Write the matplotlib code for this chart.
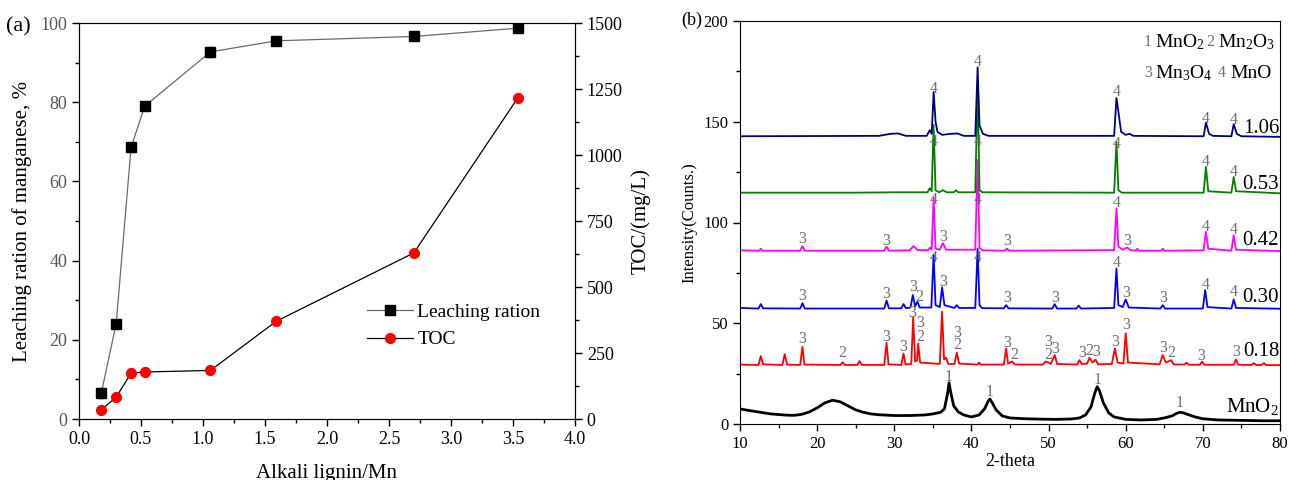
import matplotlib.pyplot as plt
from matplotlib.ticker import MultipleLocator

plt.rcParams['font.family'] = ['Liberation Serif', 'DejaVu Serif']
plt.rcParams['mathtext.fontset'] = 'custom'
plt.rcParams['mathtext.rm'] = 'Liberation Serif'
plt.rcParams['mathtext.it'] = 'Liberation Serif:italic'

# ---- panel (a) data ----
ratio = [0.18, 0.30, 0.42, 0.53, 1.06, 1.59, 2.70, 3.54]
leaching = [6.6, 24.1, 68.6, 79.0, 92.7, 95.5, 96.6, 98.7]
leaching_err = [1.2, 1.0, 1.2, 1.0, 1.2, 1.0, 1.0, 1.0]
toc = [35, 83, 174, 178, 184, 370, 629, 1217]
toc_err = [15, 15, 15, 15, 15, 15, 12, 15]

# ---- panel (b) XRD traces, (2-theta, counts) ----
mno2_pts = [(10, 7.5), (11, 6.8), (12, 6.2), (13, 5.6), (14, 5.0), (15, 4.7), (16, 4.4), (17, 4.3),
            (18, 4.8), (19, 6.0), (20, 8.0), (21, 10.5), (22, 11.8), (23, 11.0), (24, 9.0), (25, 7.0),
            (26, 5.8), (27, 5.0), (28, 4.6), (30, 4.2), (32, 4.2), (34, 4.5), (35, 5.0), (36, 5.8),
            (36.5, 7.5), (36.9, 15), (37.1, 20.5), (37.3, 16), (37.7, 9), (38.3, 6), (39, 4.5), (40, 3.5),
            (41, 4.5), (41.7, 7.5), (42.2, 11.5), (42.4, 12.4), (42.7, 10.5), (43.2, 7), (44, 4.0), (45, 3.0),
            (47, 2.6), (49, 2.4), (51, 2.3), (53, 2.5), (54, 3.0), (54.8, 4.5), (55.5, 8.5), (56.0, 15.5),
            (56.3, 18.5), (56.6, 16.5), (57.1, 10.5), (57.8, 5.5), (58.5, 3.5), (60, 2.3), (62, 2.0), (64, 2.3),
            (65, 3.0), (66, 4.0), (66.6, 5.3), (67, 5.8), (67.5, 5.5), (68, 4.8), (69, 3.5), (70, 2.6),
            (72, 2.0), (75, 1.8), (78, 1.6), (80, 1.6)]
s018_pts = [(10, 29.5), (12.4, 29.3), (12.7, 33.7), (13.0, 29.6), (15.5, 29.3), (15.8, 34.7), (16.1, 29.5),
            (17.8, 29.3), (18.1, 38.3), (18.35, 29.5), (23.0, 29.3), (23.3, 30.6), (23.6, 29.3), (25.2, 29.3),
            (25.5, 31.2), (25.8, 29.3), (28.7, 29.3), (29.0, 40.3), (29.25, 29.6), (30.9, 29.3), (31.2, 35),
            (31.45, 29.5), (32.2, 29.8), (32.45, 53), (32.7, 31), (32.95, 31.5), (33.1, 40), (33.35, 30.5),
            (35.9, 29.8), (36.2, 55.7), (36.45, 32), (36.7, 33), (37.0, 29.8), (37.8, 29.8), (38.1, 35.4),
            (38.4, 30), (40.8, 29.5), (41.0, 30.5), (41.2, 29.5), (44.2, 29.5), (44.5, 37.5), (44.75, 30),
            (45.3, 31), (45.6, 29.5), (49.3, 29.5), (49.6, 31), (50.0, 30.5), (50.3, 29.8), (50.8, 34.2),
            (51.1, 29.8), (53.7, 29.5), (54.0, 31.7), (54.3, 29.8), (55.0, 30), (55.3, 32.9), (55.7, 30.5),
            (56.1, 32), (56.4, 29.6), (58.2, 29.8), (58.6, 37.5), (58.95, 30.5), (59.7, 30), (60.0, 45),
            (60.3, 30.5), (64.4, 29.6), (64.8, 34.2), (65.2, 30.5), (65.9, 31.7), (66.2, 29.6), (67.6, 29.5),
            (67.9, 30.4), (68.2, 29.4), (69.6, 29.4), (69.9, 31), (70.2, 29.4), (74.0, 29.4), (74.3, 32),
            (74.6, 29.4), (76.3, 29.3), (76.6, 30.2), (76.9, 29.3), (77.6, 29.3), (77.9, 30.2), (78.2, 29.2),
            (80, 29.2)]
s030_pts = [(10, 57.6), (12.4, 57.3), (12.7, 59.5), (13.0, 57.4), (17.8, 57.3), (18.1, 60), (18.4, 57.3),
            (28.7, 57.3), (29.0, 61.3), (29.3, 57.4), (30.9, 57.4), (31.2, 59.5), (31.5, 57.5), (32.1, 57.8),
            (32.4, 64), (32.7, 58.5), (33.0, 60.7), (33.3, 57.8), (34.8, 57.8), (35.1, 84), (35.35, 59),
            (35.9, 58), (36.2, 67.8), (36.5, 59), (37.8, 57.6), (38.1, 59), (38.4, 57.6), (40.5, 57.6),
            (40.8, 87), (41.05, 59), (41.4, 57.5), (44.2, 57.4), (44.5, 59), (44.8, 57.4), (50.5, 57.3),
            (50.8, 59.5), (51.1, 57.3), (53.6, 57.3), (53.9, 58.8), (54.2, 57.3), (58.5, 57.6), (58.8, 77.2),
            (59.05, 59), (59.6, 58), (60.0, 61.8), (60.4, 57.8), (64.5, 57.3), (64.8, 59), (65.1, 57.3),
            (70.0, 57.3), (70.3, 66.4), (70.6, 58), (73.7, 57.3), (74.0, 61.8), (74.3, 57.6), (80, 57.2)]
s042_pts = [(10, 86.2), (12.5, 86), (12.7, 87), (12.9, 86), (17.8, 86), (18.1, 88.3), (18.4, 86), (28.7, 86),
            (29.0, 88), (29.3, 86), (32.0, 86.2), (32.5, 88.3), (33.0, 86.3), (34.4, 86.3), (34.6, 87.5),
            (34.85, 86.5), (35.1, 112.5), (35.35, 87), (35.9, 86.5), (36.3, 89.8), (36.7, 86.5), (40.5, 86.5),
            (40.8, 131), (41.05, 87.5), (41.4, 86.2), (44.3, 86), (44.6, 87), (44.9, 86), (58.5, 86.3),
            (58.8, 107), (59.05, 88), (59.6, 86.5), (60.2, 87.6), (60.6, 86.3), (61.3, 86), (61.5, 87),
            (61.7, 86), (64.6, 86), (64.8, 87), (65.0, 86), (70.1, 86.2), (70.4, 95.4), (70.7, 87), (73.7, 86),
            (74.0, 93.7), (74.3, 86.5), (80, 85.8)]
s053_pts = [(10, 114.8), (25, 114.8), (30, 115), (34.3, 115), (34.6, 117), (34.85, 115.5), (35.1, 148.5),
            (35.35, 116), (35.8, 115), (36.3, 116), (36.8, 115), (37.7, 115), (38.0, 116), (38.3, 115),
            (40.5, 115), (40.8, 169), (41.05, 116), (41.4, 115), (58.5, 114.8), (58.8, 140), (59.05, 116),
            (59.5, 114.8), (70.1, 114.8), (70.4, 127.6), (70.7, 115.5), (73.7, 114.8), (74.0, 122.6),
            (74.3, 115.5), (80, 114.5)]
s106_pts = [(10, 142.8), (28, 143), (29.5, 144), (30.5, 144.2), (31.5, 143), (34.2, 143), (34.6, 145.8),
            (34.85, 144), (35.1, 164.8), (35.35, 150), (35.6, 145), (36.2, 143.5), (37.3, 144), (38.2, 144.2),
            (39, 143), (40.5, 143), (40.8, 177), (41.05, 148), (41.5, 144), (42.2, 143), (58.5, 143),
            (58.8, 161.8), (59.05, 155), (59.4, 145), (60, 143.5), (60.5, 144), (61, 143), (70.1, 142.8),
            (70.4, 149.6), (70.8, 144), (71.3, 143), (73.7, 142.8), (74.0, 148.8), (74.4, 144), (75, 142.8),
            (80, 142.5)]

traces = [mno2_pts, s018_pts, s030_pts, s042_pts, s053_pts, s106_pts]
trace_colors = ['black', '#ff0000', '#0000ff', '#ff00ff', '#008000', '#000080']
sample_names = [r'MnO$_\mathregular{2}$', '0.18', '0.30', '0.42', '0.53', '1.06']
sample_label_y = [8.9, 35.9, 62.8, 91.0, 118.8, 146.6]

# phase marks: (2-theta, y, phase number)
mno2_marks = [(37.1, 23.5, '1'), (42.4, 16.0, '1'), (56.3, 21.8, '1'), (67.0, 10.6, '1')]
s018_marks = [(18.1, 42.0, '3'), (23.3, 35.0, '2'), (29.0, 43.3, '3'), (31.2, 38.0, '3'), (32.3, 55.2, '3'),
              (33.4, 50.0, '3'), (33.4, 43.3, '2'), (38.2, 45.3, '3'), (38.2, 39.2, '2'), (44.6, 40.0, '3'),
              (45.6, 34.2, '2'), (49.9, 40.8, '3'), (49.9, 34.2, '2'), (50.9, 37.2, '3'), (54.3, 35.0, '3'),
              (55.3, 36.4, '2'), (56.2, 35.9, '3'), (58.6, 40.8, '3'), (60.0, 49.0, '3'), (64.8, 37.5, '3'),
              (65.9, 35.0, '2'), (69.8, 33.7, '3'), (74.3, 35.9, '3')]
s030_marks = [(18.1, 63.5, '3'), (29.0, 64.5, '3'), (32.4, 67.8, '3'), (33.3, 63.1, '2'), (35.1, 82.5, '4'),
              (36.3, 70.7, '3'), (40.8, 82.5, '4'), (44.6, 62.3, '3'), (50.9, 62.3, '3'), (58.8, 79.7, '4'),
              (60.0, 64.8, '3'), (64.8, 62.3, '3'), (70.4, 69.0, '4'), (74.0, 65.6, '4')]
s042_marks = [(18.1, 91.6, '3'), (29.0, 91.0, '3'), (35.1, 111.4, '4'), (36.3, 92.6, '3'), (40.8, 111.4, '4'),
              (44.6, 91.0, '3'), (58.8, 109.8, '4'), (60.2, 91.0, '3'), (70.4, 98.0, '4'), (74.0, 96.4, '4')]
s053_marks = [(35.1, 140.0, '4'), (40.8, 140.0, '4'), (58.8, 139.0, '4'), (70.4, 130.0, '4'), (74.0, 125.0, '4')]
s106_marks = [(35.1, 166.5, '4'), (40.8, 179.7, '4'), (58.8, 164.8, '4'), (70.4, 151.6, '4'), (74.0, 150.7, '4')]
all_marks = mno2_marks + s018_marks + s030_marks + s042_marks + s053_marks + s106_marks

fig = plt.figure(figsize=(12.89, 4.8), dpi=100)
ax1 = fig.add_axes([79 / 1289, 1 - 419 / 480, (575 - 79) / 1289, (419 - 23) / 480])
ax1r = ax1.twinx()

# ---- panel (a) ----
ax1.errorbar(ratio, leaching, yerr=leaching_err, fmt='none', ecolor='#333333', capsize=2.5, elinewidth=1)
ax1.plot(ratio, leaching, color='#6a6a6a', lw=0.9, marker='s', ms=6.5, mfc='black', mec='black',
         label='Leaching ration')
ax1r.errorbar(ratio, toc, yerr=toc_err, fmt='none', ecolor='#333333', capsize=2.5, elinewidth=1)
ax1r.plot(ratio, toc, color='black', lw=0.9, marker='o', ms=7, mfc='#ff0000', mec='#ff0000', label='TOC')
ax1.set_xlim(0, 4)
ax1.set_ylim(0, 100)
ax1r.set_ylim(0, 1500)
ax1.xaxis.set_major_locator(MultipleLocator(0.5))
ax1.xaxis.set_minor_locator(MultipleLocator(0.25))
ax1.yaxis.set_major_locator(MultipleLocator(20))
ax1.yaxis.set_minor_locator(MultipleLocator(10))
ax1r.yaxis.set_major_locator(MultipleLocator(250))
ax1r.yaxis.set_minor_locator(MultipleLocator(125))
for a in (ax1, ax1r):
    a.tick_params(which='major', length=5, width=1, direction='out', labelsize=13)
    a.tick_params(which='minor', length=3, width=1, direction='out')
ax1.tick_params(axis='y', labelcolor='#555555')
ax1.set_xlabel('Alkali lignin/Mn', fontsize=15, labelpad=12)
ax1.set_ylabel('Leaching ration of manganese, %', fontsize=15, labelpad=6)
ax1r.set_ylabel('TOC/(mg/L)', fontsize=15, labelpad=6)
h1, l1 = ax1.get_legend_handles_labels()
h2, l2 = ax1r.get_legend_handles_labels()
ax1r.legend(h1 + h2, l1 + l2, loc='center left', bbox_to_anchor=(0.545, 0.235), frameon=False,
            fontsize=14, handlelength=2.4, handletextpad=0.2, labelspacing=0.5)
fig.text(6 / 1289, 1 - 27 / 480, '(a)', fontsize=16, ha='left', va='center')

# ---- panel (b) ----
ax2 = fig.add_axes([740 / 1289, 1 - 424 / 480, (1280 - 740) / 1289, (424 - 21) / 480])
for pts, c in zip(traces, trace_colors):
    xs, ys = zip(*pts)
    ax2.plot(xs, ys, color=c, lw=2.0 if c == 'black' else 1.3)
for x, y, t in all_marks:
    ax2.text(x, y, t, fontsize=11.5, color='#6e6e6e', ha='center', va='center')
for name, y in zip(sample_names, sample_label_y):
    ax2.text(79.9, y, name, fontsize=15, ha='right', va='center')
ax2.text(62.9, 189.7, '1', fontsize=11.5, color='#6e6e6e', ha='center', va='center')
ax2.text(63.8, 189.7, r'MnO$_\mathregular{2}$', fontsize=14, ha='left', va='center')
ax2.text(71.0, 189.7, '2', fontsize=11.5, color='#6e6e6e', ha='center', va='center')
ax2.text(72.0, 189.7, r'Mn$_\mathregular{2}$O$_\mathregular{3}$', fontsize=14, ha='left', va='center')
ax2.text(62.9, 174.0, '3', fontsize=11.5, color='#6e6e6e', ha='center', va='center')
ax2.text(63.8, 174.0, r'Mn$_\mathregular{3}$O$_\mathregular{4}$', fontsize=14, ha='left', va='center')
ax2.text(72.4, 174.0, '4', fontsize=11.5, color='#6e6e6e', ha='center', va='center')
ax2.text(73.6, 174.0, 'MnO', fontsize=14, ha='left', va='center')
ax2.set_xlim(10, 80)
ax2.set_ylim(0, 200)
ax2.xaxis.set_major_locator(MultipleLocator(10))
ax2.xaxis.set_minor_locator(MultipleLocator(5))
ax2.yaxis.set_major_locator(MultipleLocator(50))
ax2.yaxis.set_minor_locator(MultipleLocator(25))
ax2.tick_params(which='major', length=5, width=1, direction='out', labelsize=12)
ax2.tick_params(which='minor', length=3, width=1, direction='out')
ax2.set_xlabel('2-theta', fontsize=13, labelpad=1)
ax2.set_ylabel('Intensity(Counts.)', fontsize=12, labelpad=4)
fig.text(681 / 1289, 1 - 20 / 480, '(b)', fontsize=13, ha='left', va='center')

fig.savefig('out.png', dpi=100)
